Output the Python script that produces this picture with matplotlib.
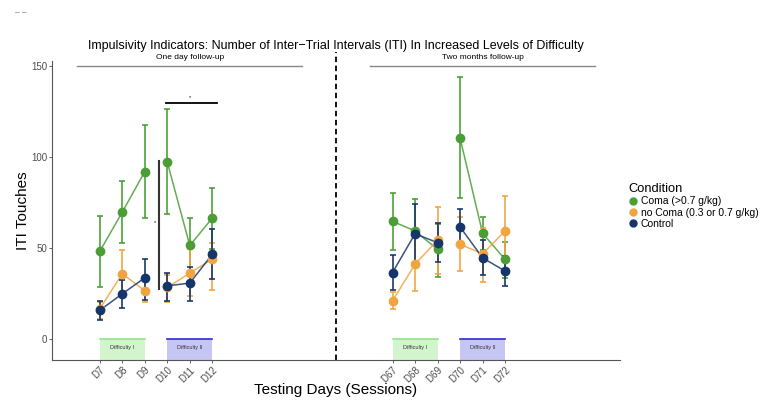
import numpy as np
import matplotlib.pyplot as plt
from matplotlib.patches import Rectangle
from matplotlib.lines import Line2D

plt.rcParams["font.family"] = ["Liberation Sans", "DejaVu Sans"]

# data
days = ["D7", "D8", "D9", "D10", "D11", "D12",
        "D67", "D68", "D69", "D70", "D71", "D72"]

coma_mean = [48.2, 69.8, 92.1, 97.4, 51.5, 66.6, 64.8, 59.5, 49.3, 110.6, 58.2, 43.8]
coma_lo = [28.4, 53.1, 66.5, 68.7, 36.1, 49.8, 48.9, 41.0, 33.9, 77.6, 48.9, 33.7]
coma_hi = [67.7, 86.8, 117.7, 126.4, 66.6, 83.3, 80.4, 77.1, 63.2, 144.1, 67.2, 53.5]

nocoma_mean = [16.6, 35.9, 26.7, 28.4, 36.3, 44.0, 21.0, 41.2, 54.4, 52.2, 46.9, 59.5]
nocoma_lo = [11.2, 23.8, 20.2, 20.2, 23.6, 26.9, 16.3, 26.5, 35.7, 37.5, 31.2, 43.0]
nocoma_hi = [20.5, 48.9, 33.0, 35.5, 49.3, 53.0, 25.7, 56.0, 72.7, 67.0, 61.0, 78.6]

control_mean = [15.8, 24.9, 33.7, 29.3, 30.8, 46.7, 36.6, 57.9, 53.1, 61.7, 44.7, 37.4]
control_lo = [10.4, 17.0, 21.4, 21.0, 21.0, 33.0, 26.9, 41.6, 42.5, 51.6, 35.2, 29.1]
control_hi = [20.7, 32.6, 44.3, 36.6, 39.7, 60.3, 46.5, 74.6, 63.6, 71.6, 54.4, 45.6]

conditions = ["Coma (>0.7 g/kg)", "no Coma (0.3 or 0.7 g/kg)", "Control"]
colors = ["#4a9e35", "#f0a540", "#16356b"]

# x positions: two blocks of six sessions
x = np.array([1, 2, 3, 4, 5, 6, 14, 15, 16, 17, 18, 19])
segments = [slice(0, 3), slice(3, 6), slice(6, 9), slice(9, 12)]

fig = plt.figure(figsize=(7.64, 4.0), dpi=100)
ax = fig.add_axes([0.068, 0.1, 0.7435, 0.7475])
ymin, ymax = -11.5, 153

series = [(coma_mean, coma_lo, coma_hi),
          (nocoma_mean, nocoma_lo, nocoma_hi),
          (control_mean, control_lo, control_hi)]

for (m, lo, hi), c in zip(series, colors):
    m, lo, hi = np.array(m), np.array(lo), np.array(hi)
    ax.errorbar(x, m, yerr=[m - lo, hi - m], fmt="none", ecolor=c,
                elinewidth=1.3, capsize=2.5, capthick=1.3, alpha=0.9, zorder=3)
    for s in segments:
        ax.plot(x[s], m[s], color=c, lw=1.1, alpha=0.85, zorder=3)
    ax.plot(x, m, "o", color=c, ms=6, zorder=4)

# difficulty boxes
boxes = [(1, "Difficulty I", "#d3f5cd", "#8ee68a"),
         (4, "Difficulty II", "#c6c6f5", "#2b2bd0"),
         (14, "Difficulty I", "#d3f5cd", "#8ee68a"),
         (17, "Difficulty II", "#c6c6f5", "#2b2bd0")]
for x0, lab, fc, ec in boxes:
    ax.add_patch(Rectangle((x0, ymin), 2, -ymin, facecolor=fc, edgecolor="none", zorder=1))
    ax.plot([x0, x0 + 2], [0, 0], color=ec, lw=1.2, zorder=2)
    ax.text(x0 + 1, -4.6, lab, ha="center", va="center", fontsize=4, color="#333333")

# separator and section headers
ax.plot([11.5, 11.5], [ymin, 158], color="black", lw=1.3, ls=(0, (3, 2)), clip_on=False)
ax.plot([0, 10], [150, 150], color="#888888", lw=1.0, clip_on=False)
ax.plot([13, 23], [150, 150], color="#888888", lw=1.0, clip_on=False)
ax.text(5, 155, "One day follow-up", ha="center", va="center", fontsize=6)
ax.text(18, 155, "Two months follow-up", ha="center", va="center", fontsize=6)

# significance marks
ax.plot([3.93, 6.23], [130, 130], color="black", lw=1.3)
ax.text(5.0, 133, "*", ha="center", va="center", fontsize=4)
ax.plot([3.62, 3.62], [27.3, 98], color="#333333", lw=1.5)
ax.text(3.44, 64, "*", ha="center", va="center", fontsize=4)

ax.set_xlim(-1.12, 24.1)
ax.set_ylim(ymin, ymax)
ax.set_xticks(x)
ax.set_xticklabels(days, rotation=45, ha="right", rotation_mode="anchor")
ax.set_yticks([0, 50, 100, 150])
ax.tick_params(axis="both", labelsize=7, labelcolor="#4d4d4d", color="#4d4d4d",
               length=2, width=0.6, pad=1.5)
for side in ["top", "right"]:
    ax.spines[side].set_visible(False)
for side in ["left", "bottom"]:
    ax.spines[side].set_color("#555555")
    ax.spines[side].set_linewidth(0.8)

ax.set_title("Impulsivity Indicators: Number of Inter\u2212Trial Intervals (ITI) In Increased Levels of Difficulty",
             fontsize=9, pad=9)
ax.set_ylabel("ITI Touches", fontsize=11, labelpad=1)
ax.set_xlabel("Testing Days (Sessions)", fontsize=11, labelpad=-1)

handles = [Line2D([], [], marker="o", ls="none", color=c, ms=5) for c in colors]
fig.legend(handles, conditions, title="Condition", loc="upper left",
           bbox_to_anchor=(624 / 764, 1 - 179 / 400), frameon=False,
           fontsize=7.5, title_fontsize=9.3, handletextpad=0.2, labelspacing=0.12,
           borderaxespad=0, handlelength=1.0, alignment="left")

fig.text(0.02, 0.965, "\u2013 \u2013", fontsize=6, color="#555555")

fig.savefig("out.png", dpi=100)
